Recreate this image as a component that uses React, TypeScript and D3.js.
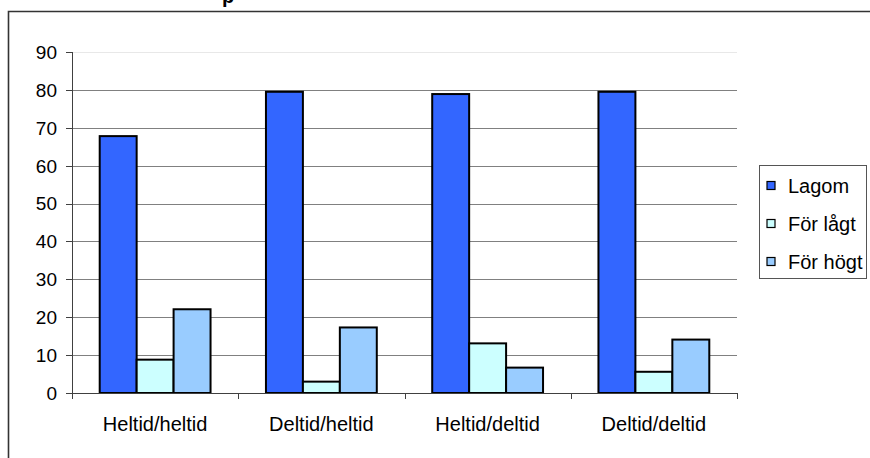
import React from "react";
import * as d3 from "d3";

const categories = ["Heltid/heltid", "Deltid/heltid", "Heltid/deltid", "Deltid/deltid"];
const seriesNames = ["Lagom", "För lågt", "För högt"];
const lagom = [67.8, 79.5, 78.9, 79.5];
const forLagt = [8.8, 3.0, 13.1, 5.6];
const forHogt = [22.1, 17.3, 6.7, 14.1];
const yTicks = [0, 10, 20, 30, 40, 50, 60, 70, 80, 90];
const colors = ["#3366FF", "#CCFFFF", "#99CCFF"];

const W = 870;
const H = 458;
const plot = { left: 72, right: 737, top: 52, bottom: 393 };
const FONT = "'Liberation Sans', Arial, Helvetica, sans-serif";

export default function App() {
  const series = [lagom, forLagt, forHogt];
  const y = d3.scaleLinear().domain([0, 90]).range([plot.bottom, plot.top]);
  const x0 = d3.scaleBand<string>().domain(categories).range([plot.left, plot.right]).paddingInner(0).paddingOuter(0);
  const bw = x0.bandwidth();
  const groupW = bw * (3 / 4.5);
  const x1 = d3.scaleBand<string>().domain(seriesNames).range([0, groupW]).padding(0);

  return (
    <svg width={W} height={H} style={{ position: "absolute", left: 0, top: 0, background: "#fff" }}>
      <rect x={0} y={0} width={W} height={H} fill="#fff" />
      <text x={222} y={3} fontFamily={FONT} fontSize={20} fontWeight="bold" fill="#000">p</text>
      <path d={`M8.5,${H + 5} V11.5 H${W + 5}`} fill="none" stroke="#333" strokeWidth={1.6} />
      {/* gridlines */}
      {yTicks.map((t) => (
        <line
          key={"g" + t}
          x1={plot.left}
          x2={plot.right}
          y1={Math.round(y(t)) + 0.5}
          y2={Math.round(y(t)) + 0.5}
          stroke={t === 90 ? "#e8e8e8" : "#808080"}
          strokeWidth={1}
        />
      ))}
      {/* y axis */}
      <line x1={plot.left + 0.5} x2={plot.left + 0.5} y1={plot.top} y2={plot.bottom + 1} stroke="#404040" />
      {yTicks.map((t) => (
        <g key={"t" + t}>
          <line x1={plot.left - 6} x2={plot.left} y1={Math.round(y(t)) + 0.5} y2={Math.round(y(t)) + 0.5} stroke="#404040" />
          <text x={57} y={y(t)} dy="0.36em" textAnchor="end" fontFamily={FONT} fontSize={19} fill="#000">
            {t}
          </text>
        </g>
      ))}
      {/* bars */}
      {categories.map((c, ci) => (
        <g key={c} transform={`translate(${(x0(c) as number) + (bw - groupW) / 2},0)`}>
          {series.map((s, si) => (
            <rect
              key={si}
              x={x1(seriesNames[si])}
              y={y(s[ci])}
              width={x1.bandwidth()}
              height={plot.bottom - y(s[ci])}
              fill={colors[si]}
              stroke="#000"
              strokeWidth={2}
            />
          ))}
        </g>
      ))}
      {/* x axis */}
      <line x1={plot.left} x2={plot.right + 0.5} y1={plot.bottom + 0.5} y2={plot.bottom + 0.5} stroke="#404040" />
      {d3.range(categories.length + 1).map((i) => {
        const xx = Math.round(plot.left + i * bw) + 0.5;
        return <line key={"xt" + i} x1={xx} x2={xx} y1={plot.bottom} y2={plot.bottom + 6} stroke="#404040" />;
      })}
      {categories.map((c) => (
        <text
          key={"l" + c}
          x={(x0(c) as number) + bw / 2}
          y={431}
          textAnchor="middle"
          fontFamily={FONT}
          fontSize={20}
          fill="#000"
        >
          {c}
        </text>
      ))}
      {/* legend */}
      <rect x={759.5} y={165.5} width={107} height={113} fill="#fff" stroke="#555" strokeWidth={1} />
      {seriesNames.map((n, i) => (
        <g key={n} transform={`translate(0,${185.5 + i * 38})`}>
          <rect x={767} y={-4} width={8} height={8} fill={colors[i]} stroke="#000" strokeWidth={1.2} />
          <text x={788} y={0} dy="0.36em" fontFamily={FONT} fontSize={20} fill="#000">
            {n}
          </text>
        </g>
      ))}
    </svg>
  );
}
